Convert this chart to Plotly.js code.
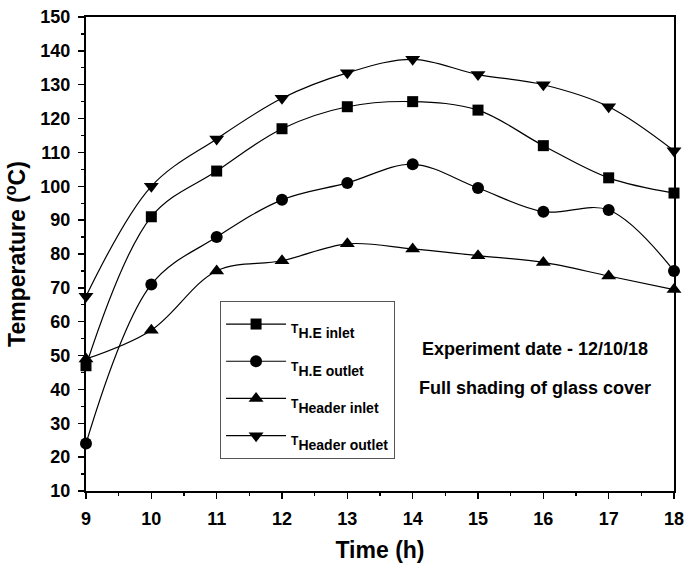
<!DOCTYPE html>
<html>
<head>
<meta charset="utf-8">
<script src="https://cdn.plot.ly/plotly-3.0.1.min.js"></script>
<style>html,body{margin:0;padding:0;background:#fff;}#chart{width:685px;height:569px;}</style>
</head>
<body>
<div id="chart"></div>
<script>
const time = [9, 10, 11, 12, 13, 14, 15, 16, 17, 18];
const heInlet = [47, 91, 104.5, 117, 123.5, 125, 122.5, 112, 102.5, 98];
const heOutlet = [24, 71, 85, 96, 101, 106.5, 99.5, 92.5, 93, 75];
const headerInlet = [49, 57.5, 75, 78, 83, 81.5, 79.5, 77.5, 73.5, 69.5];
const headerOutlet = [67.5, 100, 114, 126, 133.5, 137.5, 133, 130, 123.5, 110.5];
const seriesSubs = ['H.E inlet', 'H.E outlet', 'Header inlet', 'Header outlet'];
const seriesData = [heInlet, heOutlet, headerInlet, headerOutlet];
const symbols = ['square', 'circle', 'triangle-up', 'triangle-down'];
const sizes = [11, 12, 13, 13];
const notes = ['Experiment date - 12/10/18', 'Full shading of glass cover'];
const FONT = 'Liberation Sans, Arial, sans-serif';

const traces = seriesData.map((y, i) => ({
  x: time, y: y,
  name: '<span style="font-size:12px">T</span><sub><span style="font-size:14px">' + seriesSubs[i] + '</span></sub>',
  type: 'scatter', mode: 'lines+markers',
  legendgroup: 'g' + i,
  line: {color: '#000', width: 1.2, shape: 'spline', smoothing: 1},
  marker: {symbol: symbols[i], size: sizes[i], color: '#000'},
  cliponaxis: false
}));

const axisCommon = {
  showline: true, linecolor: '#000', linewidth: 2, mirror: true,
  ticks: 'outside', ticklen: 6, tickwidth: 1.5, tickcolor: '#000',
  showgrid: false, zeroline: false, ticklabelstandoff: 4,
  tickfont: {family: FONT, size: 18, color: '#000', weight: 'bold'},
  minor: {ticks: 'outside', ticklen: 3, tickwidth: 1.2, tickcolor: '#000'}
};

const layout = {
  width: 685, height: 569,
  margin: {l: 86, r: 11, t: 17, b: 78},
  paper_bgcolor: '#fff', plot_bgcolor: '#fff',
  font: {family: FONT, color: '#000'},
  xaxis: Object.assign({}, axisCommon, {
    range: [9, 18], dtick: 1, tick0: 9,
    minor: Object.assign({}, axisCommon.minor, {dtick: 0.5}),
    title: {text: 'Time (h)', font: {size: 23, weight: 'bold', family: FONT}, standoff: 14}
  }),
  yaxis: Object.assign({}, axisCommon, {
    range: [10, 150], dtick: 10, tick0: 10,
    minor: Object.assign({}, axisCommon.minor, {dtick: 5}),
    title: {text: 'Temperature (<sup>o</sup>C)', font: {size: 23, weight: 'bold', family: FONT}, standoff: 8}
  }),
  showlegend: true,
  legend: {
    x: 0.228, y: 0.401, xanchor: 'left', yanchor: 'top',
    bordercolor: '#555', borderwidth: 1, bgcolor: '#fff',
    font: {size: 24, weight: 'bold', family: FONT},
    traceorder: 'grouped', tracegroupgap: 3, itemwidth: 60
  },
  annotations: notes.map((t, i) => ({
    text: t, xref: 'paper', yref: 'paper', x: 0.763, y: 0.30 - i * 0.082,
    showarrow: false, xanchor: 'center', yanchor: 'middle',
    font: {size: 18, weight: 'bold', family: FONT, color: '#000'}
  }))
};

Plotly.newPlot('chart', traces, layout, {displayModeBar: false, staticPlot: true});
</script>
</body>
</html>
